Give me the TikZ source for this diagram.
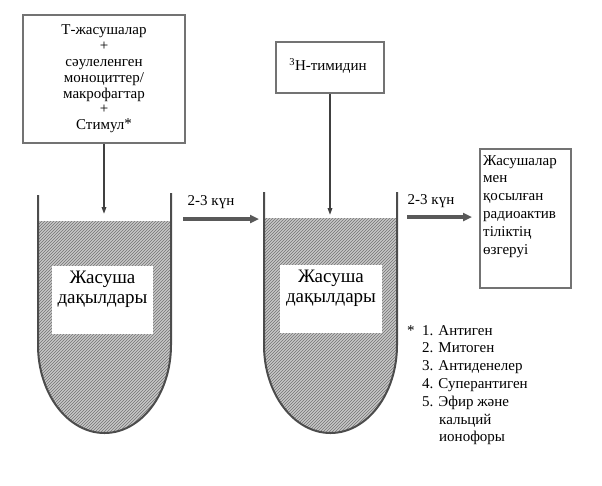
\documentclass[tikz,border=0pt]{standalone}
\usepackage{fontspec}
\setmainfont{Liberation Serif}
\newfontfamily\cellfont{Liberation Serif}
\usetikzlibrary{arrows.meta,patterns}
\tikzset{
  box/.style={draw=black!55, line width=1.6pt, fill=white, inner sep=0pt},
  wall/.style={draw=black!70, line width=2pt},
  tubefill/.style={preaction={fill=black!22}, pattern=north east lines, pattern color=black!55},
  downarrow/.style={draw=black!75, line width=1.6pt, -{Triangle[length=7pt,width=4.5pt]}},
  sidearrow/.style={draw=black!65, line width=3.2pt, -{Triangle[length=9pt,width=8pt]}},
  txt/.style={inner sep=0pt, font=\fontsize{15}{15.8}\selectfont},
  celltxt/.style={inner sep=0pt, align=center, font=\cellfont\fontsize{19}{20}\selectfont},
}
\begin{document}
\begin{tikzpicture}[x=1pt,y=1pt]
\useasboundingbox (0,0) rectangle (602,-485);

% tube 1
\fill[tubefill] (38,-221) -- (38,-345) arc[start angle=180,end angle=360,x radius=66.5,y radius=88] -- (171,-221) -- cycle;
\draw[wall] (38,-195) -- (38,-345) arc[start angle=180,end angle=360,x radius=66.5,y radius=88] -- (171,-193);
\fill[white] (52,-266) rectangle (153,-334);
\node[celltxt] (c1) at (102.5,-289) {Жасуша\\дақылдары};

% tube 2
\fill[tubefill] (264,-218) -- (264,-345) arc[start angle=180,end angle=360,x radius=66.5,y radius=88] -- (397,-218) -- cycle;
\draw[wall] (264,-192) -- (264,-345) arc[start angle=180,end angle=360,x radius=66.5,y radius=88] -- (397,-192);
\fill[white] (280,-265) rectangle (382,-333);
\node[celltxt] (c2) at (331,-288) {Жасуша\\дақылдары};

% box 1
\node[box, txt, minimum width=162, minimum height=128, align=center] (b1) at (104,-79)
  {Т-жасушалар\\+\\сәулеленген\\моноциттер/\\макрофагтар\\+\\Стимул\raisebox{1pt}{*}};
\coordinate (t1) at (104,-214);
\draw[downarrow] (b1.south) -- (t1);

% box 2
\node[box, minimum width=108, minimum height=51] (b2) at (330,-67.5) {};
\node[txt] (b2t) at (328,-66) {\textsuperscript{3}Н-тимидин};
\coordinate (t2) at (330,-215);
\draw[downarrow] (b2.south) -- (t2);

% arrow 1
\coordinate (a1s) at (183,-219);
\coordinate (a1e) at (259,-219);
\draw[sidearrow] (a1s) -- (a1e);
\node[txt] (l1) at (211,-202) {2-3 күн};

% box 3
\node[box, minimum width=91, minimum height=139] (b3) at (525.5,-218.5) {};
\node[txt, anchor=north west, align=left, font=\fontsize{15}{17.8}\selectfont] (b3t) at (483,-155)
  {Жасушалар\\мен\\қосылған\\радиоактив\\тіліктің\\өзгеруі};

% arrow 2
\coordinate (a2s) at (407,-217);
\coordinate (a2e) at (472,-217);
\draw[sidearrow] (a2s) -- (a2e);
\node[txt] (l2) at (431,-201) {2-3 күн};

% footnote
\node[txt, anchor=north west, align=left, font=\fontsize{15}{17.8}\selectfont] (fn) at (407,-325)
  {\makebox[15pt][l]{*}1. Антиген\\
   \makebox[15pt][l]{}2. Митоген\\
   \makebox[15pt][l]{}3. Антиденелер\\
   \makebox[15pt][l]{}4. Суперантиген\\
   \makebox[15pt][l]{}5. Эфир және\\
   \makebox[32pt][l]{}кальций\\
   \makebox[32pt][l]{}ионофоры};
\end{tikzpicture}
\end{document}
